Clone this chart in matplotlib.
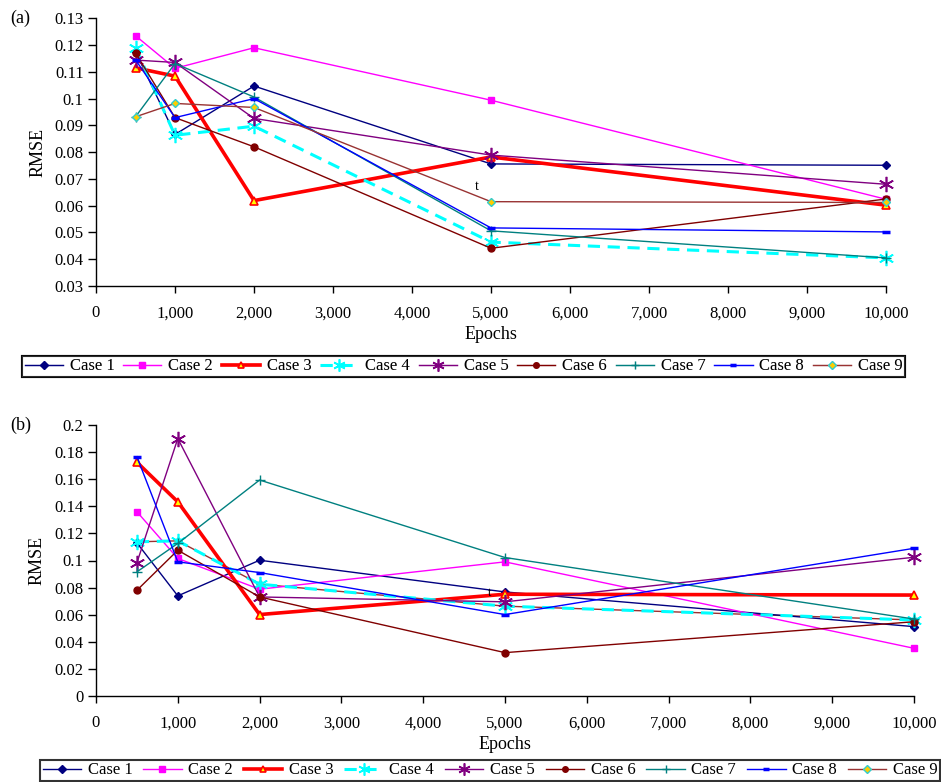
import matplotlib
matplotlib.use("Agg")
import matplotlib.pyplot as plt
from matplotlib.ticker import FixedLocator, FuncFormatter

plt.rcParams['font.family'] = ['Liberation Serif', 'DejaVu Serif']

epochs = [500, 1000, 2000, 5000, 10000]
case_names = ["Case 1", "Case 2", "Case 3", "Case 4", "Case 5", "Case 6", "Case 7", "Case 8", "Case 9"]

# Panel (a) RMSE values
a_case1 = [0.1175, 0.0866, 0.1047, 0.0756, 0.0751]
a_case2 = [0.1235, 0.1113, 0.1190, 0.0994, 0.0624]
a_case3 = [0.1115, 0.1084, 0.0619, 0.0782, 0.0602]
a_case4 = [0.1190, 0.0863, 0.0897, 0.0464, 0.0405]
a_case5 = [0.1144, 0.1135, 0.0926, 0.0789, 0.0680]
a_case6 = [0.1171, 0.0929, 0.0820, 0.0441, 0.0625]
a_case7 = [0.0932, 0.1131, 0.1006, 0.0506, 0.0405]
a_case8 = [0.1145, 0.0929, 0.1000, 0.0517, 0.0502]
a_case9 = [0.0932, 0.0982, 0.0967, 0.0615, 0.0612]

# Panel (b) RMSE values
b_case1 = [0.1130, 0.0739, 0.1002, 0.0768, 0.0512]
b_case2 = [0.1360, 0.1015, 0.0788, 0.0990, 0.0352]
b_case3 = [0.1725, 0.1433, 0.0601, 0.0751, 0.0745]
b_case4 = [0.1138, 0.1145, 0.0825, 0.0663, 0.0561]
b_case5 = [0.0983, 0.1900, 0.0731, 0.0695, 0.1024]
b_case6 = [0.0780, 0.1076, 0.0731, 0.0320, 0.0548]
b_case7 = [0.0916, 0.1126, 0.1594, 0.1022, 0.0568]
b_case8 = [0.1766, 0.0990, 0.0911, 0.0601, 0.1090]
b_case9 = [0.1138, 0.1145, 0.0825, 0.0663, 0.0561]

a_series = [a_case1, a_case2, a_case3, a_case4, a_case5, a_case6, a_case7, a_case8, a_case9]
b_series = [b_case1, b_case2, b_case3, b_case4, b_case5, b_case6, b_case7, b_case8, b_case9]

x_ticks = [0, 1000, 2000, 3000, 4000, 5000, 6000, 7000, 8000, 9000, 10000]
a_yticks = [0.03, 0.04, 0.05, 0.06, 0.07, 0.08, 0.09, 0.10, 0.11, 0.12, 0.13]
b_yticks = [0.0, 0.02, 0.04, 0.06, 0.08, 0.10, 0.12, 0.14, 0.16, 0.18, 0.20]

styles = [
    dict(color='#000080', lw=1.0, marker='D', ms=4.5, mfc='#000080', mec='#000080'),
    dict(color='#FF00FF', lw=1.0, marker='s', ms=5, mfc='#FF00FF', mec='#FF00FF'),
    dict(color='#FF0000', lw=2.6, marker='^', ms=6, mfc='#FFFF00', mec='#FF0000', mew=1.2),
    dict(color='#00FFFF', lw=2.2, ls=(0, (4, 2.5)), marker=(6, 2, 0), ms=11, mfc='#00FFFF', mec='#00FFFF', mew=1.2),
    dict(color='#800080', lw=1.0, marker=(6, 2, 0), ms=11, mfc='#800080', mec='#800080', mew=1.2),
    dict(color='#800000', lw=1.0, marker='o', ms=5, mfc='#800000', mec='#800000'),
    dict(color='#008080', lw=1.0, marker='+', ms=7, mfc='#008080', mec='#008080', mew=1.0),
    dict(color='#0000FF', lw=1.0, marker='_', ms=6, mfc='#0000FF', mec='#0000FF', mew=2.5),
    dict(color='#993333', lw=1.0, marker='D', ms=4.5, mfc='#FFCC00', mec='#33CCCC', mew=1.0),
]

fig = plt.figure(figsize=(9.41, 7.82), dpi=100)
ax_a = fig.add_axes([96/941, 1-286/782, (886-96)/941, (286-18.3)/782])
ax_b = fig.add_axes([96/941, 1-696/782, (914-96)/941, (696-425)/782])

def fmt_x(v, p):
    return f"{int(v):,}"

def fmt_y(v, p):
    if abs(v) < 1e-9:
        return "0"
    return f"{v:.2f}".rstrip('0')

def style_ax(ax, yticks, ylim):
    for s in ['top', 'right']:
        ax.spines[s].set_visible(False)
    for s in ['left', 'bottom']:
        ax.spines[s].set_linewidth(1.0)
        ax.spines[s].set_color('black')
    ax.set_xlim(0, 10000)
    ax.set_ylim(*ylim)
    ax.xaxis.set_major_locator(FixedLocator(x_ticks))
    ax.yaxis.set_major_locator(FixedLocator(yticks))
    ax.xaxis.set_major_formatter(FuncFormatter(fmt_x))
    ax.yaxis.set_major_formatter(FuncFormatter(fmt_y))
    ax.tick_params(direction='out', width=1.0, labelsize=12, colors='black')
    ax.tick_params(axis='x', length=5, pad=9)
    ax.tick_params(axis='y', length=6, pad=3)
    ax.set_xlabel("Epochs", fontsize=13, labelpad=3)
    ax.set_ylabel("RMSE", fontsize=13, labelpad=6)

handles = []
for i, (ser, st) in enumerate(zip(a_series, styles)):
    h, = ax_a.plot(epochs, ser, clip_on=False, zorder=2 + i * 0.01, **st)
    handles.append(h)
b_z = [2.00, 2.01, 2.02, 2.03, 2.04, 2.05, 2.06, 2.07, 1.99]
for ser, st, z in zip(b_series, styles, b_z):
    ax_b.plot(epochs, ser, clip_on=False, zorder=z, **st)

style_ax(ax_a, a_yticks, (0.03, 0.13))
style_ax(ax_b, b_yticks, (0.0, 0.20))

ax_a.text(4820, 0.067, "t", fontsize=10, ha='center', va='center')
ax_b.text(4808, 0.0758, "t", fontsize=9, ha='center', va='center')

fig.text(10/941, 1-18/782, "(a)", fontsize=13, ha='left', va='center')
fig.text(10/941, 1-425/782, "(b)", fontsize=13, ha='left', va='center')

def add_legend(x0, y0, x1, y1):
    leg = fig.legend(handles, case_names, loc='lower left',
                     bbox_to_anchor=(x0/941, 1-y1/782, (x1-x0)/941, (y1-y0)/782),
                     mode='expand', ncol=9, fontsize=12, frameon=True, fancybox=False,
                     edgecolor='black', borderaxespad=0, borderpad=0.15,
                     handlelength=2.3, handletextpad=0.4, columnspacing=0.3,
                     markerscale=0.8)
    leg.get_frame().set_linewidth(1.5)
    return leg

leg1 = add_legend(22, 352, 905, 377)
fig.add_artist(leg1)
add_legend(40, 757, 940, 781)

fig.savefig("out.png", dpi=100)
